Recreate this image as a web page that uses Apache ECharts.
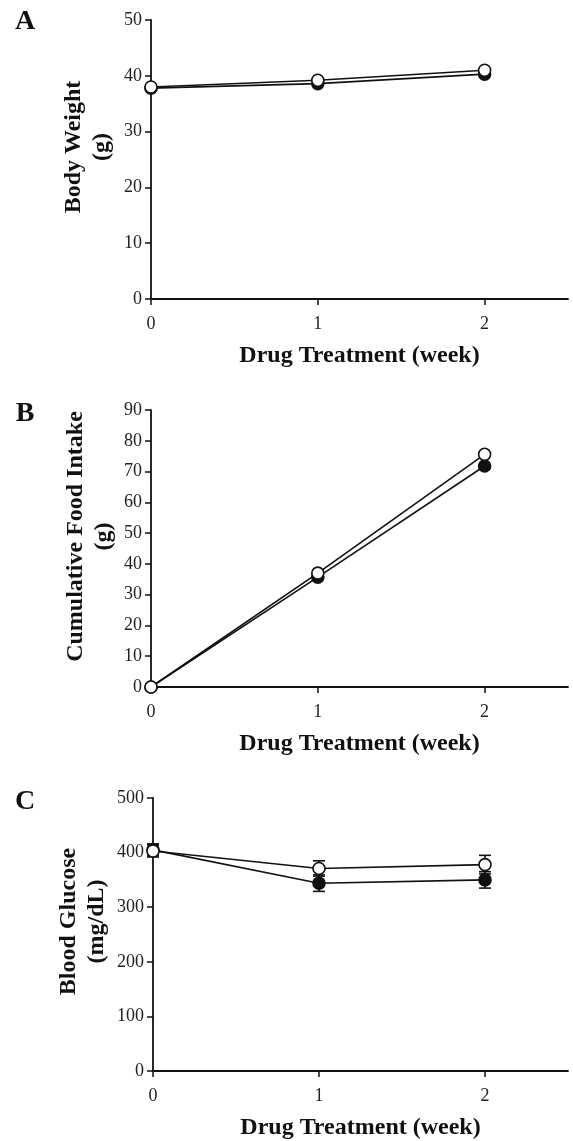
<!DOCTYPE html>
<html>
<head>
<meta charset="utf-8">
<script src="https://cdn.jsdelivr.net/npm/echarts@6/dist/echarts.min.js"></script>
<style>
  html, body { margin: 0; padding: 0; background: #ffffff; }
  #chart { width: 573px; height: 1141px; }
</style>
</head>
<body>
<div id="chart"></div>
<script>
// ---- data ----
const weeks = [0, 1, 2];
const xTickValues = [0, 1, 2];

const bodyWeightOpen   = [38.0, 39.2, 41.0];
const bodyWeightFilled = [37.8, 38.6, 40.3];

const foodOpen   = [0, 37.0, 75.6];
const foodFilled = [0, 35.7, 71.8];

const glucoseOpen      = [403, 371, 378];
const glucoseOpenErr   = [11, 14, 17];
const glucoseFilled    = [405, 344, 350];
const glucoseFilledErr = [11, 15, 15];

const panelLetters = ['A', 'B', 'C'];
const xTitle = 'Drug Treatment (week)';
const yTitles = ['Body Weight\n(g)', 'Cumulative Food Intake\n(g)', 'Blood Glucose\n(mg/dL)'];
const yRanges = [[0, 50, 10], [0, 90, 10], [0, 500, 100]];

// ---- styling ----
const FONT = '"Liberation Serif", "DejaVu Serif", serif';
const INK = '#111';

const chart = echarts.init(document.getElementById('chart'), null, { renderer: 'canvas' });

const grids = [
  { left: 151, top: 20,  width: 417, height: 279 },
  { left: 151, top: 410, width: 417, height: 277 },
  { left: 153, top: 798, width: 415, height: 276 }
];
const yNameGaps = [35, 33, 42];
const yNamePad = [25, 24, 26];

function pairs(xs, ys) { return xs.map((x, i) => [x, ys[i]]); }

const xAxes = grids.map((g, i) => ({
  type: 'value', gridIndex: i, min: 0, max: 2.5, interval: 1,
  axisLine: { show: true, onZero: false, lineStyle: { color: INK, width: 1.8 } },
  axisTick: { show: true, length: 6, customValues: xTickValues, lineStyle: { color: INK, width: 1.5 } },
  axisLabel: { customValues: xTickValues, margin: 16, fontFamily: FONT, fontSize: 18, color: '#222' },
  splitLine: { show: false },
  name: xTitle, nameLocation: 'middle', nameGap: 45, nameMoveOverlap: false,
  nameTextStyle: { fontFamily: FONT, fontSize: 24, fontWeight: 'bold', color: INK, lineHeight: 24 }
}));

const yAxes = grids.map((g, i) => ({
  type: 'value', gridIndex: i, min: yRanges[i][0], max: yRanges[i][1], interval: yRanges[i][2],
  axisLine: { show: true, onZero: false, lineStyle: { color: INK, width: 1.8 } },
  axisTick: { show: true, length: 6, lineStyle: { color: INK, width: 1.5 } },
  axisLabel: { margin: 9, fontFamily: FONT, fontSize: 18, color: '#222' },
  splitLine: { show: false },
  name: yTitles[i], nameLocation: 'middle', nameRotate: 90, nameGap: yNameGaps[i], nameMoveOverlap: false,
  nameTextStyle: { fontFamily: FONT, fontSize: 24, fontWeight: 'bold', color: INK, lineHeight: 28, padding: [0, 0, 0, yNamePad[i]] }
}));

function lineSeries(idx, data, filled) {
  return {
    type: 'line', xAxisIndex: idx, yAxisIndex: idx, data: data,
    symbol: 'circle', symbolSize: 12, z: filled ? 3 : 4,
    lineStyle: { color: INK, width: 1.6 },
    itemStyle: { color: filled ? INK : '#fff', borderColor: INK, borderWidth: 1.6 },
    animation: false
  };
}

function errorSeries(idx, means, errs) {
  return {
    type: 'custom', xAxisIndex: idx, yAxisIndex: idx, z: 2,
    data: weeks.map((w, i) => [w, means[i], errs[i]]),
    encode: { x: 0, y: 1 },
    renderItem: function (params, api) {
      const x = api.value(0), m = api.value(1), e = api.value(2);
      const top = api.coord([x, m + e]);
      const bot = api.coord([x, m - e]);
      const hw = 6;
      const st = { stroke: INK, lineWidth: 1.6 };
      return {
        type: 'group',
        children: [
          { type: 'line', shape: { x1: top[0], y1: top[1], x2: bot[0], y2: bot[1] }, style: st },
          { type: 'line', shape: { x1: top[0] - hw, y1: top[1], x2: top[0] + hw, y2: top[1] }, style: st },
          { type: 'line', shape: { x1: bot[0] - hw, y1: bot[1], x2: bot[0] + hw, y2: bot[1] }, style: st }
        ]
      };
    },
    animation: false
  };
}

const series = [
  lineSeries(0, pairs(weeks, bodyWeightFilled), true),
  lineSeries(0, pairs(weeks, bodyWeightOpen), false),
  lineSeries(1, pairs(weeks, foodFilled), true),
  lineSeries(1, pairs(weeks, foodOpen), false),
  errorSeries(2, glucoseFilled, glucoseFilledErr),
  errorSeries(2, glucoseOpen, glucoseOpenErr),
  lineSeries(2, pairs(weeks, glucoseFilled), true),
  lineSeries(2, pairs(weeks, glucoseOpen), false)
];

const letterPos = [[25, 22], [25, 414], [25, 802]];

chart.setOption({
  backgroundColor: '#ffffff',
  animation: false,
  grid: grids,
  xAxis: xAxes,
  yAxis: yAxes,
  series: series,
  graphic: panelLetters.map((t, i) => ({
    type: 'text', x: letterPos[i][0], y: letterPos[i][1],
    style: { text: t, fontFamily: FONT, fontSize: 28, fontWeight: 'bold', fill: INK, align: 'center', verticalAlign: 'middle' }
  }))
});
</script>
</body>
</html>
